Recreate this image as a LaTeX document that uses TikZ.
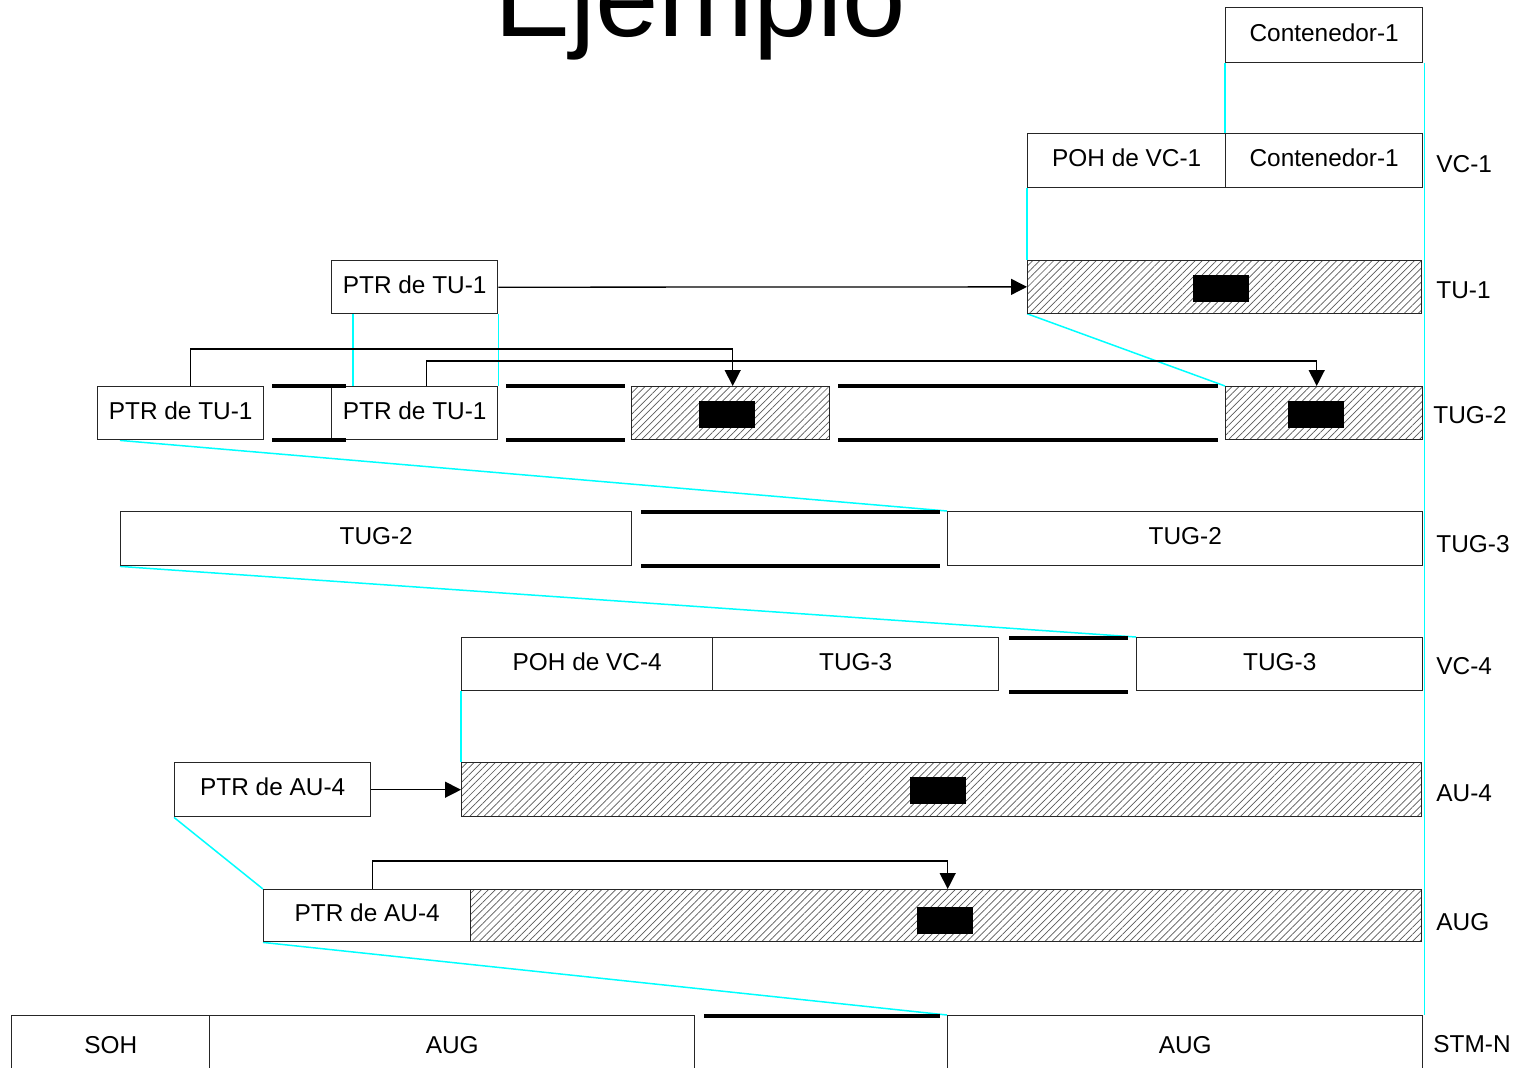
\documentclass[tikz,border=0pt]{standalone}
\usepackage{fontspec}
\setmainfont{Liberation Sans}
\usetikzlibrary{arrows.meta,patterns.meta,backgrounds}
\definecolor{guidecyan}{RGB}{0,255,255}

\tikzstyle{block} = [rectangle, draw=black!85, line width=0.7pt, fill=white, inner sep=0pt, anchor=north west, text height=9pt, text depth=3pt, font=\fontsize{12.2}{14}\selectfont]
\tikzstyle{hatch} = [block, fill=none, pattern={Lines[angle=45,distance=2.5pt,line width=0.35pt]}, pattern color=black!65]
\tikzstyle{payload} = [rectangle, fill=black, inner sep=0pt, anchor=north west]
\tikzstyle{gapline} = [line width=1.6pt]
\tikzstyle{guide} = [draw=guidecyan, line width=0.75pt]
\tikzstyle{ptr} = [line width=0.65pt, -{Triangle[length=8pt,width=8pt]}]
\tikzstyle{lvl} = [anchor=west, inner sep=0pt, font=\fontsize{12.2}{14}\selectfont]
\tikzset{sz/.style 2 args={minimum width=#1*0.5pt, minimum height=#2*0.5pt}}

\begin{document}
\begin{tikzpicture}[x=0.5pt, y=-0.5pt]
\useasboundingbox (0,0) rectangle (1524,1067);
\clip (0,0) rectangle (1524,1067);

\node [anchor=base, inner sep=0pt, font=\fontsize{57}{60}\selectfont] (title) at (700,36) {Ejemplo};

% VC-1
\node [block, sz={197}{55}] (c1top) at (1225,7) {Contenedor-1};
\node [block, sz={198}{54}] (pohvc1) at (1027,133) {POH de VC-1};
\node [block, sz={197}{54}] (c1) at (1225,133) {Contenedor-1};
\node [lvl] (l_vc1) at (1436,164) {VC-1};

% TU-1
\node [block, sz={166}{53}] (ptrtu1) at (331,260) {PTR de TU-1};
\node [hatch, sz={394}{53}] (tu1) at (1027,260) {};
\node [payload, sz={56}{27}] (tu1_p) at (1193,275) {};
\node [lvl] (l_tu1) at (1436,290) {TU-1};

% TUG-2
\node [block, sz={166}{53}] (ptra) at (97,386) {PTR de TU-1};
\node [block, sz={166}{53}] (ptrb) at (331,386) {PTR de TU-1};
\node [hatch, sz={198}{53}] (tug2a) at (631,386) {};
\node [payload, sz={56}{27}] (tug2a_p) at (699,401) {};
\node [hatch, sz={197}{53}] (tug2b) at (1225,386) {};
\node [payload, sz={56}{27}] (tug2b_p) at (1288,401) {};
\node [lvl] (l_tug2) at (1433,415) {TUG-2};

% TUG-3
\node [block, sz={511}{54}] (tug3a) at (120,511) {TUG-2};
\node [block, sz={475}{54}] (tug3b) at (947,511) {TUG-2};
\node [lvl] (l_tug3) at (1436,544) {TUG-3};

% VC-4
\node [block, sz={251}{53}] (pohvc4) at (461,637) {POH de VC-4};
\node [block, sz={286}{53}] (tug3c) at (712,637) {TUG-3};
\node [block, sz={286}{53}] (tug3d) at (1136,637) {TUG-3};
\node [lvl] (l_vc4) at (1436,666) {VC-4};

% AU-4
\node [block, sz={196}{54}] (ptrau4) at (174,762) {PTR de AU-4};
\node [hatch, sz={960}{54}] (au4) at (461,762) {};
\node [payload, sz={56}{27}] (au4_p) at (910,777) {};
\node [lvl] (l_au4) at (1436,793) {AU-4};

% AUG
\node [block, sz={207}{52}] (ptraug) at (263,889) {PTR de AU-4};
\node [hatch, sz={951}{52}] (aug) at (470,889) {};
\node [payload, sz={56}{27}] (aug_p) at (917,907) {};
\node [lvl] (l_aug) at (1436,922) {AUG};

% STM-N
\node [block, sz={198}{64}] (soh) at (11,1015) {SOH};
\node [block, sz={485}{64}] (stma) at (209,1015) {AUG};
\node [block, sz={475}{64}] (stmb) at (947,1015) {AUG};
\node [lvl] (l_stm) at (1433,1044) {STM-N};

% huecos
\foreach \xa/\xb/\ya/\yb in {272/346/386/440, 506/625/386/440, 838/1218/386/440, 641/940/512/566, 1009/1128/638/692}{
  \draw [gapline] (\xa,\ya) -- (\xb,\ya);
  \draw [gapline] (\xa,\yb) -- (\xb,\yb);
}
\draw [gapline] (704,1016) -- (940,1016);

% punteros
\draw [ptr] (ptrtu1.east) -- (tu1.west);
\draw [ptr] (ptrau4.east) -- (au4.west);
\draw [ptr] ([xshift=5pt]ptra.north) -- ++(0,-37) -| ([xshift=1pt]tug2a.north);
\draw [ptr] ([xshift=6pt]ptrb.north) -- ++(0,-25) -| ([xshift=-3.75pt]tug2b.north);
\draw [ptr] ([xshift=2.75pt]ptraug.north) -- ++(0,-28) -| ([xshift=0.75pt]aug.north);

% lineas de correspondencia
\begin{scope}[on background layer]
\draw [guide] (c1top.south west) -- (c1.north west);
\draw [guide] ([xshift=0.5pt]c1top.south east) -- ([xshift=0.5pt]stmb.north east);
\draw [guide] (pohvc1.south west) -- (tu1.north west);
\draw [guide] (tu1.south west) -- (tug2b.north west);
\draw [guide] ([xshift=11pt]ptrtu1.south west) -- ([xshift=11pt]ptrb.north west);
\draw [guide] (ptrtu1.south east) -- (ptrb.north east);
\draw [guide] ([xshift=11.5pt]ptra.south west) -- (tug3b.north west);
\draw [guide] (tug3a.south west) -- (tug3d.north west);
\draw [guide] (pohvc4.south west) -- (au4.north west);
\draw [guide] (ptrau4.south west) -- (ptraug.north west);
\draw [guide] (ptraug.south west) -- (stmb.north west);
\end{scope}
\end{tikzpicture}
\end{document}
